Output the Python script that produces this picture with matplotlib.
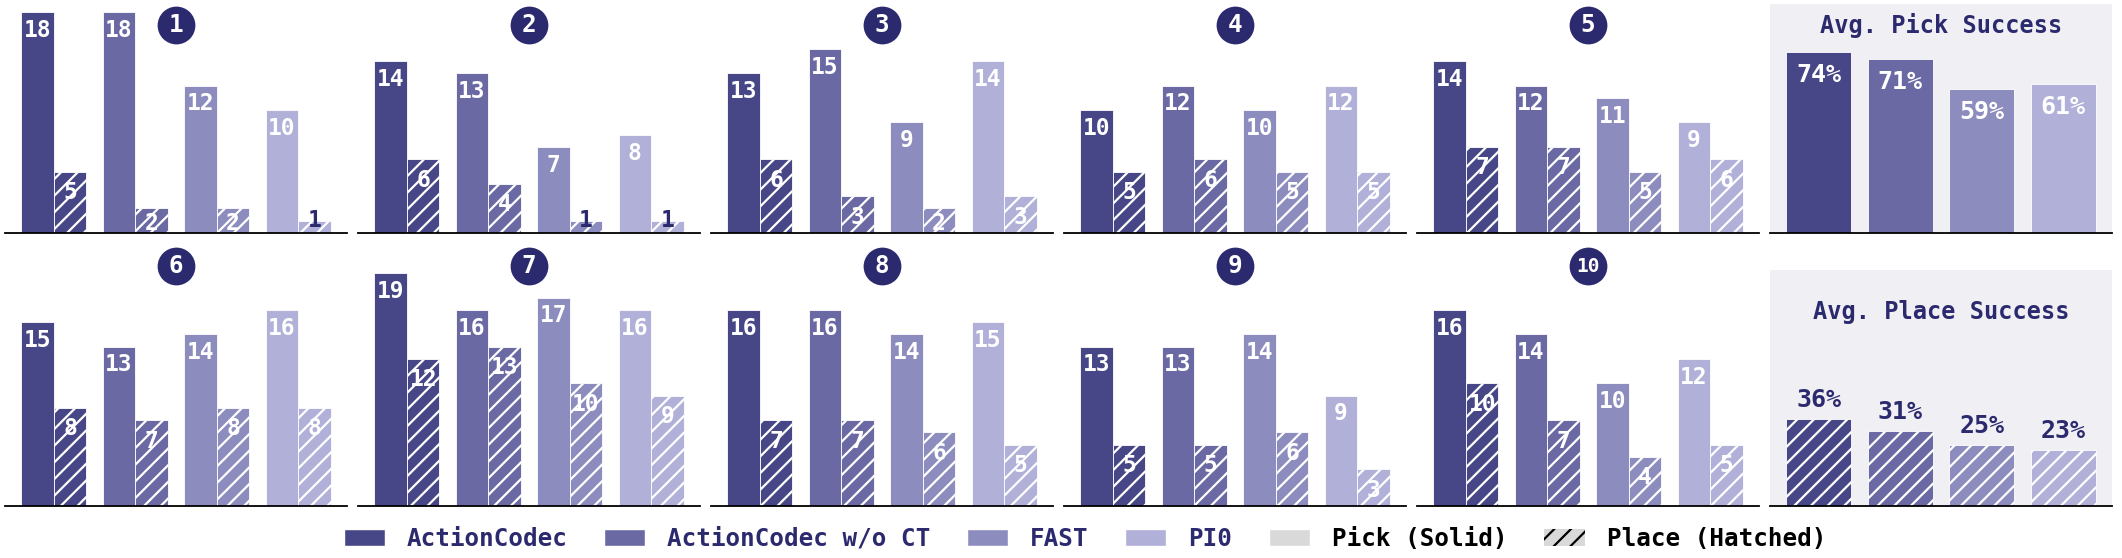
import matplotlib
matplotlib.use("Agg")
import matplotlib.pyplot as plt
from matplotlib.patches import Patch
import numpy as np

plt.rcParams['font.family'] = ['DejaVu Sans Mono']
plt.rcParams['font.weight'] = 'bold'
plt.rcParams['hatch.linewidth'] = 1.6
plt.rcParams['hatch.color'] = 'white'

models = ["ActionCodec", "ActionCodec w/o CT", "FAST", "PI0"]
colors = ["#474787", "#6a69a4", "#8d8cbe", "#b1b0d9"]
navy = "#2c2a6e"

task_ids = ["1", "2", "3", "4", "5", "6", "7", "8", "9", "10"]
pick = [
    [18, 18, 12, 10],
    [14, 13, 7, 8],
    [13, 15, 9, 14],
    [10, 12, 10, 12],
    [14, 12, 11, 9],
    [15, 13, 14, 16],
    [19, 16, 17, 16],
    [16, 16, 14, 15],
    [13, 13, 14, 9],
    [16, 14, 10, 12],
]
place = [
    [5, 2, 2, 1],
    [6, 4, 1, 1],
    [6, 3, 2, 3],
    [5, 6, 5, 5],
    [7, 7, 5, 6],
    [8, 7, 8, 8],
    [12, 13, 10, 9],
    [7, 7, 6, 5],
    [5, 5, 6, 3],
    [10, 7, 4, 5],
]
avg_pick = [74, 71, 59, 61]
avg_place = [36, 31, 25, 23]

W, H = 2122, 558
fig = plt.figure(figsize=(W / 100, H / 100), dpi=100)

col_left = [5 + k * 353 for k in range(6)]
col_w = 342
rows = [(4, 233), (270, 506)]
row_ytop = [18.65, 19.25]
badge_y = [1 - 21 / 229, 1 + 4 / 236]


def make_ax(col, row):
    top, bot = rows[row]
    return fig.add_axes([col_left[col] / W, 1 - bot / H, col_w / W, (bot - top) / H])


def style(ax):
    for s in ["top", "right", "left"]:
        ax.spines[s].set_visible(False)
    ax.spines["bottom"].set_linewidth(1.3)
    ax.spines["bottom"].set_color("black")
    ax.set_xticks([])
    ax.set_yticks([])
    ax.set_xlim(-0.6, 3.6)


x = np.arange(4)
for t in range(10):
    row, col = divmod(t, 5)
    ax = make_ax(col, row)
    style(ax)
    ax.set_ylim(0, row_ytop[row])
    ax.bar(x - 0.2, pick[t], width=0.4, color=colors, edgecolor="white", linewidth=0.6)
    ax.bar(x + 0.2, place[t], width=0.4, color=colors, edgecolor="white", linewidth=0.6, hatch="//")
    for i in range(4):
        ax.text(x[i] - 0.2, pick[t][i] - 0.55, str(pick[t][i]), ha="center", va="top",
                color="white", fontsize=16.5, fontweight="bold")
        v = place[t][i]
        if v <= 1:
            ax.text(x[i] + 0.2, v + 0.0, str(v), ha="center", va="center",
                    color=navy, fontsize=16.5, fontweight="bold")
        else:
            ax.text(x[i] + 0.2, max(v - 1.7, 0.8), str(v), ha="center", va="center",
                    color="white", fontsize=16.5, fontweight="bold")
    ax.scatter([1.5], [badge_y[row]], s=740, color=navy, transform=ax.get_xaxis_transform(),
               clip_on=False, zorder=5, linewidths=0)
    ax.text(1.5, badge_y[row], task_ids[t], transform=ax.get_xaxis_transform(), ha="center",
            va="center", color="white", fontsize=17.5 if len(task_ids[t]) == 1 else 14,
            fontweight="bold", zorder=6, clip_on=False)

bg = "#f0eff4"
# Avg pick
ax = make_ax(5, 0)
style(ax)
ax.set_facecolor(bg)
ax.set_ylim(0, 93.6)
ax.bar(x, avg_pick, width=0.8, color=colors, edgecolor="white", linewidth=0.6)
for i in range(4):
    ax.text(x[i], avg_pick[i] - 4.5, f"{avg_pick[i]}%", ha="center", va="top",
            color="white", fontsize=18, fontweight="bold")
ax.text(0.5, 1 - 21 / 229, "Avg. Pick Success", transform=ax.transAxes, ha="center",
        va="center", color=navy, fontsize=17, fontweight="bold")

# Avg place
ax = make_ax(5, 1)
style(ax)
ax.set_facecolor(bg)
ax.set_ylim(0, 97.5)
ax.bar(x, avg_place, width=0.8, color=colors, edgecolor="white", linewidth=0.6, hatch="//")
for i in range(4):
    ax.text(x[i], avg_place[i] + 3, f"{avg_place[i]}%", ha="center", va="bottom",
            color=navy, fontsize=18, fontweight="bold")
ax.text(0.5, 1 - 42 / 236, "Avg. Place Success", transform=ax.transAxes, ha="center",
        va="center", color=navy, fontsize=17, fontweight="bold")

handles = [Patch(facecolor=c, edgecolor="white") for c in colors]
handles += [Patch(facecolor="#d9d9d9", edgecolor="white"),
            Patch(facecolor="#d9d9d9", edgecolor="black", hatch="//", linewidth=0)]
labels = models + ["Pick (Solid)", "Place (Hatched)"]
leg = fig.legend(handles, labels, loc="center", bbox_to_anchor=(1085 / W, 1 - 539 / H), ncol=6,
                 frameon=False, fontsize=17.5, handlelength=1.7, handleheight=0.75,
                 columnspacing=1.5, handletextpad=0.9)
for i, txt in enumerate(leg.get_texts()):
    txt.set_color(navy if i < 4 else "black")
    txt.set_fontweight("bold")

fig.savefig("out.png", dpi=100, facecolor="white")
